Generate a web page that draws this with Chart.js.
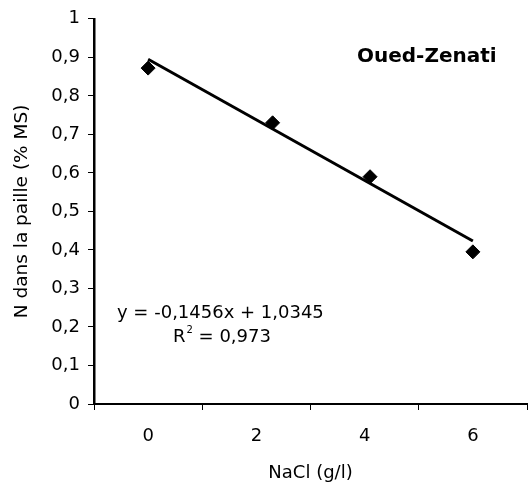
<!DOCTYPE html>
<html>
<head>
  <title>N dans la paille - Oued-Zenati</title>
  <script src="https://cdn.jsdelivr.net/npm/chart.js"></script>
  <style>
    html, body {
      margin: 0;
      padding: 0;
      background-color: #fff;
      overflow: hidden;
    }
    #wrap {
      width: 535px;
      height: 485px;
    }
  </style>
</head>
<body>
  <div id="wrap"><canvas id="nChart"></canvas></div>

  <script>
    // values
    const nacl = [0, 2.3, 4.1, 6];           // g/l (x position of each diamond)
    const nPaille = [0.872, 0.73, 0.59, 0.395]; // % MS
    const trendX = [0, 6];
    const trendY = [0.895, 0.423];
    const xTickLabels = { 0: '0', 2: '2', 4: '4', 6: '6' };
    const equation = 'y = -0,1456x + 1,0345';
    const r2 = '0,973';
    const varietyName = 'Oued-Zenati';

    const FONT = '"DejaVu Sans", sans-serif';

    const textPlugin = {
      id: 'annotations',
      afterDraw(chart) {
        const ctx = chart.ctx;
        ctx.save();
        ctx.fillStyle = '#000';
        ctx.textBaseline = 'middle';

        ctx.font = 'bold 20px ' + FONT;
        ctx.textAlign = 'left';
        ctx.fillText(varietyName, 357, 57);

        ctx.font = '18px ' + FONT;
        ctx.fillText(equation, 117, 313);

        // R² with a small superscript
        let x = 173;
        ctx.fillText('R', x, 337);
        x += ctx.measureText('R').width;
        ctx.font = '10px ' + FONT;
        ctx.fillText('2', x + 1, 330);
        x += ctx.measureText('2').width + 1;
        ctx.font = '18px ' + FONT;
        ctx.fillText(' = ' + r2, x, 337);
        ctx.restore();
      }
    };

    const ctx = document.getElementById('nChart').getContext('2d');
    new Chart(ctx, {
      type: 'scatter',
      data: {
        datasets: [
          {
            label: 'N',
            data: nacl.map((v, i) => ({ x: v, y: nPaille[i] })),
            pointStyle: 'rectRot',
            pointRadius: 7,
            pointBackgroundColor: '#000',
            pointBorderColor: '#000',
            showLine: false
          },
          {
            label: 'Tendance',
            data: trendX.map((v, i) => ({ x: v, y: trendY[i] })),
            showLine: true,
            borderColor: '#000',
            borderWidth: 3,
            pointRadius: 0
          }
        ]
      },
      options: {
        responsive: true,
        maintainAspectRatio: false,
        animation: false,
        layout: {
          padding: { top: 8, right: 2, left: 0, bottom: 0 }
        },
        plugins: {
          legend: { display: false },
          tooltip: { enabled: false }
        },
        scales: {
          x: {
            type: 'linear',
            min: -1,
            max: 7,
            afterFit: s => {
              s.height = 81;
              s.paddingLeft = 0;
              s.paddingRight = 0;
            },
            afterBuildTicks: s => {
              s.ticks = [-1, 0, 1, 2, 3, 4, 5, 6, 7].map(v => ({ value: v }));
            },
            border: { color: '#000', width: 2 },
            grid: {
              drawOnChartArea: false,
              tickLength: 6,
              tickWidth: 1,
              tickColor: c => (Math.abs(c.tick.value) % 2 === 1 ? '#000' : 'rgba(0,0,0,0)')
            },
            ticks: {
              autoSkip: false,
              maxRotation: 0,
              padding: 16,
              color: '#000',
              font: { family: FONT, size: 18 },
              callback: v => xTickLabels[v] || ''
            },
            title: {
              display: true,
              text: 'NaCl (g/l)',
              color: '#000',
              font: { family: FONT, size: 18 },
              padding: { top: 0, bottom: 1 }
            }
          },
          y: {
            min: 0,
            max: 1,
            afterFit: s => { s.width = 94; },
            border: { color: '#000', width: 2.5 },
            grid: {
              drawOnChartArea: false,
              tickLength: 6,
              tickWidth: 1,
              tickColor: '#000'
            },
            ticks: {
              stepSize: 0.1,
              padding: 8,
              color: '#000',
              font: { family: FONT, size: 18 },
              callback: v => String(Math.round(v * 10) / 10).replace('.', ',')
            },
            title: {
              display: true,
              text: 'N dans la paille (% MS)',
              color: '#000',
              font: { family: FONT, size: 18.5 },
              padding: { top: 11, bottom: 0 }
            }
          }
        }
      },
      plugins: [textPlugin]
    });
  </script>
</body>
</html>
